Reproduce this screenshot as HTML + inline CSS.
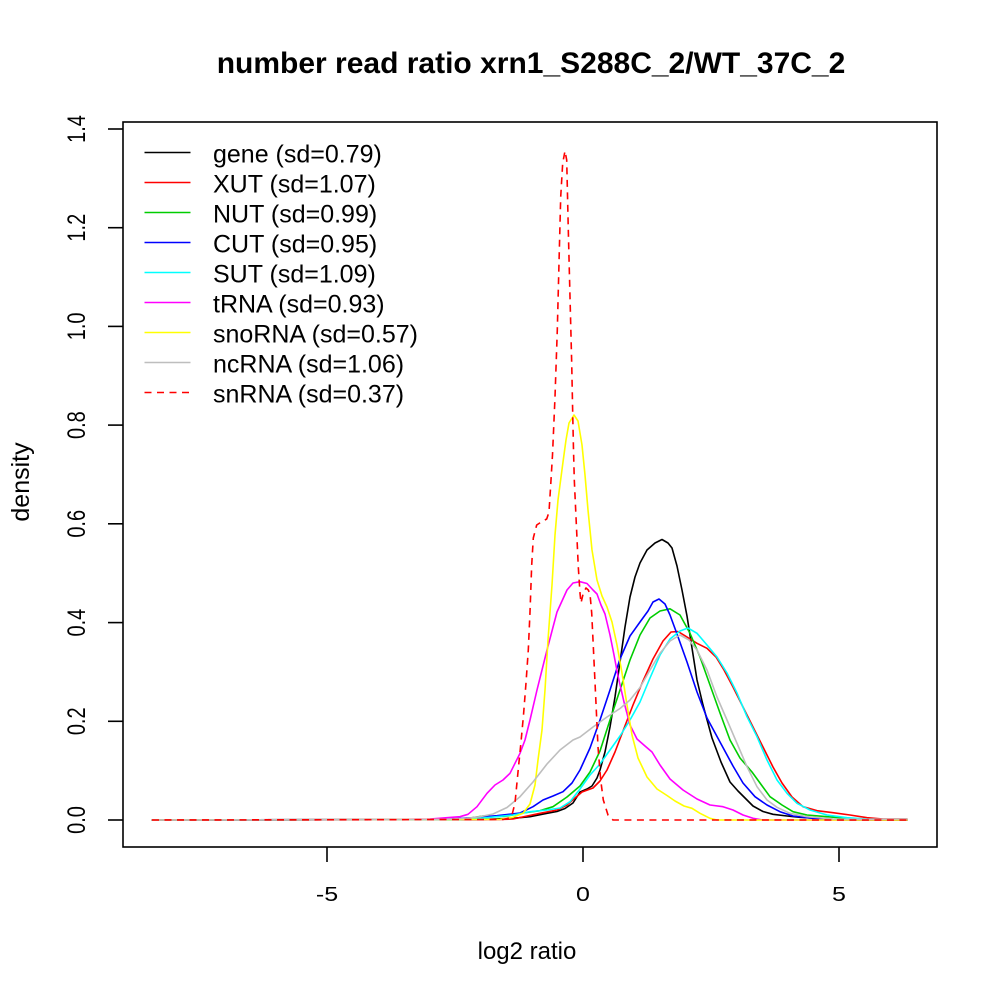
<!DOCTYPE html>
<html>
<head>
<meta charset="utf-8">
<style>
html,body{margin:0;padding:0;background:#fff;}
svg{display:block;}
text{font-family:"Liberation Sans",Arial,sans-serif;fill:#000;}
</style>
</head>
<body>
<svg width="1000" height="1000" viewBox="0 0 1000 1000" xmlns="http://www.w3.org/2000/svg">
<rect x="0" y="0" width="1000" height="1000" fill="#fff"/>

<!-- title -->
<text x="531" y="73" font-size="30" font-weight="bold" text-anchor="middle">number read ratio xrn1_S288C_2/WT_37C_2</text>

<!-- curves -->
<g fill="none" stroke-width="1.6" stroke-linejoin="round" stroke-linecap="round">
<!-- gene -->
<polyline stroke="#000000" points="152,820 480,819.5 513,818.3 530,816.7 547,813.3 557,811.5 565,808.5 573,803 580,792 587,789 592,786 597,778 600,770 605,752 610,727 615,697 620,662 625,627 630,597 635,577 640,563 647,550 655,543 662,539.5 668,543 672,548 677,566 682,590 687,616 692,648 697,680 703,705 712,738 721,762 730,782 738,791 747,800 753,806 763,811.5 773,814.3 787,816 800,817.3 833,819.3 867,820 907,820"/>
<!-- XUT -->
<polyline stroke="#FF0000" points="152,820 500,819.5 513,819 540,813.3 557,810 567,805 575,798 582,792 593,788 600,781 607,770 615,752 623,731 633,705 643,681 653,659 663,641 671,632 678,631.5 687,637 697,643.3 707,648.3 716,657 724,670 733,687 743,707 753,727 763,747 773,767 782,783 792,797 803,806.7 817,810.7 833,812.7 850,815 867,817.7 883,819 907,819"/>
<!-- NUT -->
<polyline stroke="#00CD00" points="152,820 460,819.5 470,818 483,816 495,816.7 507,816 523,813 540,810.7 553,806.7 567,797 580,786 590,772 600,751 610,720 620,690 630,660 640,635 650,618 660,611 670,608.8 680,615 690,633.3 700,657 710,685 720,713 730,740 740,758 752,772 760,783 770,796.7 782,805 793,811.7 807,815 827,816.7 847,818.3 867,819.3 907,820"/>
<!-- CUT -->
<polyline stroke="#0000FF" points="152,820 440,819.5 473,817.7 497,815.7 520,813 533,806.7 543,800 553,796 563,791.7 572,783 580,770 590,748 600,720 610,690 620,659 630,636 640,622 648,611 653,602 659,599 665,604 670,615 677,634 687,662 697,692 707,718 720,742 733,766 743,783 755,796.7 767,805 780,811.7 793,816 813,818.3 840,820 907,820"/>
<!-- SUT -->
<polyline stroke="#00FFFF" points="152,820 460,819.5 480,818.3 513,815 530,811.7 547,810 560,808 570,801.7 580,789 590,775 600,764 610,750 620,736 630,720 640,702 650,678 660,655 670,639 680,631 688,628 697,633.3 707,645 717,657 727,673 737,693 747,716.7 757,736.7 767,760 777,780 787,793.3 797,803.3 810,810 827,815 847,817.7 867,819 907,820"/>
<!-- tRNA -->
<polyline stroke="#FF00FF" points="152,820 380,819.5 430,819 447,817.7 460,816.7 468,814.3 477,806.7 487,793.3 495,785 503,780 510,773.3 515,763.3 520,753.3 525,740 530,720 537,690 547,650 557,612 567,590 573,583 580,581.7 587,583.5 593,590 597,594 601,605 605,614 610,635 614,655 618,676 624,702 630,725 637,739 645,746 652,752 660,765 670,779 683,790 697,799 710,805 723,806.7 733,810 743,815 753,818.3 763,820 907,820"/>
<!-- snoRNA -->
<polyline stroke="#FFFF00" points="152,820 500,819.3 513,817.3 523,813.3 530,804 535,785 538,760 542,730 545,690 548,640 552,585 555,535 558,500 563,462 566,440 569,423 574,415 578,421 582,445 585,475 588,510 592,550 597,580 602,596 607,607 612,622 617,645 622,673 627,705 632,735 638,758 647,777 657,789 667,795.5 675,801 684,806 692,808.3 700,813.3 710,818.3 717,820 907,820"/>
<!-- ncRNA -->
<polyline stroke="#BEBEBE" points="152,820 440,819.5 467,818.3 480,816.7 493,814 507,807.5 520,796.7 533,782 547,764 560,750 573,740 580,737 593,727 607,717 620,708.5 630,700 640,687.5 650,670 660,653.3 670,641 680,635 689,640 697,650 707,670 717,697 727,720 737,743.3 747,766.7 757,786.7 767,800 777,807.3 790,813.3 807,816.7 833,819 867,819.3 907,819"/>
<!-- snRNA -->
<polyline stroke="#FF0000" stroke-dasharray="7 5.5" stroke-linecap="butt" points="152,820 503,819.5 509,818 512,815 515,803 518,772 521,742 523.5,715 526,683 528.3,650 530,612 531.7,565 533.3,538 536.7,525 541.7,521.7 546.7,519 549,512 550.7,485 552.5,455 555,397 557.3,330 559,263 560.7,197 562.7,163 565,151 566.7,160 568.3,230 570,297 571.7,363 572.7,413 573.5,450 574.3,480 576,517 578.3,567 580,593 581,603 583.3,593 586,588 588.3,590 590,594 591.7,613 593,640 595.7,697 598,747 600.7,780 603.3,800 608,815 613,820 907,820"/>
</g>

<!-- frame -->
<rect x="123" y="122" width="814" height="725" fill="none" stroke="#000" stroke-width="1.6"/>

<!-- x ticks -->
<g stroke="#000" stroke-width="1.6">
<line x1="327" y1="847" x2="327" y2="862"/>
<line x1="583" y1="847" x2="583" y2="862"/>
<line x1="839" y1="847" x2="839" y2="862"/>
</g>
<g font-size="25" text-anchor="middle">
<text transform="translate(327,901) scale(1,0.82)">-5</text>
<text transform="translate(583,901) scale(1,0.82)">0</text>
<text transform="translate(839,901) scale(1,0.82)">5</text>
</g>

<!-- y ticks -->
<g stroke="#000" stroke-width="1.6">
<line x1="108" y1="820" x2="123" y2="820"/>
<line x1="108" y1="721.3" x2="123" y2="721.3"/>
<line x1="108" y1="622.6" x2="123" y2="622.6"/>
<line x1="108" y1="523.8" x2="123" y2="523.8"/>
<line x1="108" y1="425.1" x2="123" y2="425.1"/>
<line x1="108" y1="326.4" x2="123" y2="326.4"/>
<line x1="108" y1="227.7" x2="123" y2="227.7"/>
<line x1="108" y1="129" x2="123" y2="129"/>
</g>
<g font-size="25" text-anchor="middle">
<text transform="translate(85,820) rotate(-90) scale(0.8,1)">0.0</text>
<text transform="translate(85,721.3) rotate(-90) scale(0.8,1)">0.2</text>
<text transform="translate(85,622.6) rotate(-90) scale(0.8,1)">0.4</text>
<text transform="translate(85,523.8) rotate(-90) scale(0.8,1)">0.6</text>
<text transform="translate(85,425.1) rotate(-90) scale(0.8,1)">0.8</text>
<text transform="translate(85,326.4) rotate(-90) scale(0.8,1)">1.0</text>
<text transform="translate(85,227.7) rotate(-90) scale(0.8,1)">1.2</text>
<text transform="translate(85,129) rotate(-90) scale(0.8,1)">1.4</text>
</g>

<!-- axis labels -->
<text x="527" y="959" font-size="24" text-anchor="middle">log2 ratio</text>
<text transform="translate(29,482) rotate(-90)" font-size="25" text-anchor="middle">density</text>

<!-- legend -->
<g stroke-width="1.6" fill="none">
<line x1="144.5" y1="152.5" x2="190.5" y2="152.5" stroke="#000000"/>
<line x1="144.5" y1="182.5" x2="190.5" y2="182.5" stroke="#FF0000"/>
<line x1="144.5" y1="212.5" x2="190.5" y2="212.5" stroke="#00CD00"/>
<line x1="144.5" y1="242.5" x2="190.5" y2="242.5" stroke="#0000FF"/>
<line x1="144.5" y1="272.5" x2="190.5" y2="272.5" stroke="#00FFFF"/>
<line x1="144.5" y1="302.5" x2="190.5" y2="302.5" stroke="#FF00FF"/>
<line x1="144.5" y1="332.5" x2="190.5" y2="332.5" stroke="#FFFF00"/>
<line x1="144.5" y1="362.5" x2="190.5" y2="362.5" stroke="#BEBEBE"/>
<line x1="144.5" y1="392.5" x2="190.5" y2="392.5" stroke="#FF0000" stroke-dasharray="7 5.5"/>
</g>
<g font-size="25">
<text x="213" y="162.5">gene (sd=0.79)</text>
<text x="213" y="192.5">XUT (sd=1.07)</text>
<text x="213" y="222.5">NUT (sd=0.99)</text>
<text x="213" y="252.5">CUT (sd=0.95)</text>
<text x="213" y="282.5">SUT (sd=1.09)</text>
<text x="213" y="312.5">tRNA (sd=0.93)</text>
<text x="213" y="342.5">snoRNA (sd=0.57)</text>
<text x="213" y="372.5">ncRNA (sd=1.06)</text>
<text x="213" y="402.5">snRNA (sd=0.37)</text>
</g>
</svg>
</body>
</html>
